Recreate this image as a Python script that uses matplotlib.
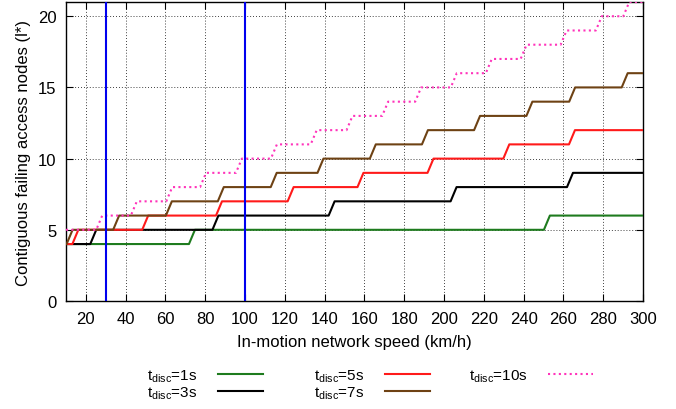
import matplotlib
matplotlib.use("Agg")
import matplotlib.pyplot as plt
import numpy as np

plt.rcParams['font.family'] = ['Liberation Sans', 'DejaVu Sans']
plt.rcParams['mathtext.fontset'] = 'custom'
plt.rcParams['mathtext.rm'] = 'Liberation Sans'
plt.rcParams['mathtext.it'] = 'Liberation Sans'

# Data: starting value at 10 km/h and speeds (km/h) where each series steps up by one
labels = ["1s", "3s", "5s", "7s", "10s"]
start_1s, steps_1s = 4, [73.3, 251.7]
start_3s, steps_3s = 4, [23.7, 85.1, 143.5, 204.8, 263.3]
start_5s, steps_5s = 4, [14.7, 49.8, 86.9, 122.9, 158.0, 193.2, 231.3, 264.3]
start_7s, steps_7s = 4, [11.8, 35.2, 61.7, 87.8, 114.4, 137.9, 164.2, 190.4,
                         216.6, 242.9, 264.4, 290.8]
start_10s, steps_10s = 5, [26.7, 44.1, 61.9, 78.9, 96.9, 114.5, 134.5, 152.5,
                           170.4, 187.0, 204.9, 222.5, 240.0, 260.1, 277.8, 291.6]
vlines_speed = [30, 100]
x_min, x_max = 10, 300
xticks = list(range(20, 301, 20))
yticks = [0, 5, 10, 15, 20]

colors = ['#1e7b1e', '#000000', '#ff1a1a', '#6e4214', '#ff33bb']
styles = ['-', '-', '-', '-', (0, (1, 1.6))]
FS = 12
LFS = 11


def step_line(start, steps, ramp=1.5):
    xs = [x_min]
    ys = [start]
    n = start
    for s in steps:
        xs += [max(s - ramp, x_min), s + ramp]
        ys += [n, n + 1]
        n += 1
    xs.append(x_max)
    ys.append(n)
    return np.array(xs), np.array(ys)


series = [(start_1s, steps_1s), (start_3s, steps_3s), (start_5s, steps_5s),
          (start_7s, steps_7s), (start_10s, steps_10s)]

fig = plt.figure(figsize=(6.76, 4.10), dpi=100)
ax = fig.add_axes([66 / 676, 1 - 302 / 410, (643 - 66) / 676, (302 - 3) / 410])

handles = []
for (st, sp), lab, c, ls in zip(series, labels, colors, styles):
    x, y = step_line(st, sp)
    h, = ax.plot(x, y, color=c, lw=1.5, ls=ls,
                 label=r'$\mathregular{t_{disc}}$=' + lab, zorder=3)
    handles.append(h)

for v in vlines_speed:
    ax.axvline(v, color='#0000ee', lw=1.5, zorder=4)

ax.set_xlim(x_min, x_max)
ax.set_ylim(0, 21)
ax.set_xticks(xticks)
ax.set_yticks(yticks)
ax.tick_params(direction='in', top=True, right=True, length=5, labelsize=FS)
ax.tick_params(axis='x', pad=7)
ax.tick_params(axis='y', pad=7)
ax.grid(True, color='black', ls=(0, (1, 2.5)), lw=0.6)
for s in ax.spines.values():
    s.set_linewidth(1.0)

ax.set_xlabel('In-motion network speed (km/h)', fontsize=FS, labelpad=6)
ax.set_ylabel('Contiguous failing access nodes (l*)', fontsize=FS, labelpad=5)

groups = [(handles[0:2], 147), (handles[2:4], 314), (handles[4:5], 469)]
for hs, xpix in groups:
    leg = fig.legend(handles=hs, loc='upper left',
                     bbox_to_anchor=(xpix / 676, 0.102),
                     markerfirst=False, frameon=False, fontsize=LFS,
                     handlelength=2.95, handletextpad=1.35,
                     labelspacing=0.05, borderpad=0, borderaxespad=0)

fig.savefig('out.png', dpi=100)
